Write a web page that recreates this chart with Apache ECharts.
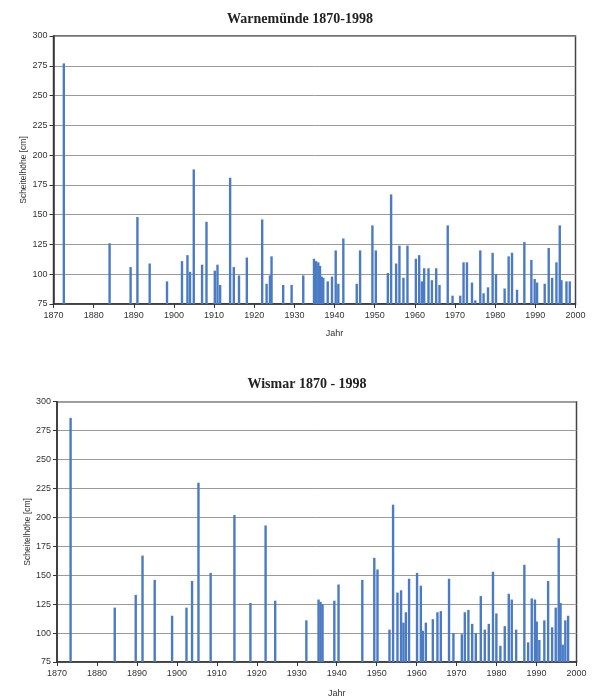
<!DOCTYPE html>
<html>
<head>
<meta charset="utf-8">
<script src="https://cdn.jsdelivr.net/npm/echarts@6/dist/echarts.min.js"></script>
<style>
html,body{margin:0;padding:0;background:#fff;}
#chart{width:594px;height:699px;}
</style>
</head>
<body>
<div id="chart"></div>
<script>
// ---- Data (decimal year of event, crest height in cm) ----
const titles = ["Warnemünde 1870-1998", "Wismar 1870 - 1998"];
const yAxisName = "Scheitelhöhe [cm]";
const xAxisName = "Jahr";

const warnYears = [1872.57,1883.97,1889.2,1890.9,1893.95,1898.27,1902.0,1903.36,1904.0,1904.93,1907.0,1908.1,1910.17,1910.84,1911.5,1913.99,1914.9,1916.2,1918.15,1921.97,1923.07,1923.9,1924.3,1927.2,1929.3,1932.2,
  1934.87,1935.37,1935.94,1936.37,1936.79,1937.19,1938.29,1939.36,1940.28,1940.93,1942.18,1945.52,1946.35,1949.42,1950.26,1953.26,1954.08,1955.33,1956.15,1957.15,1958.15,1960.24,1961.07,1961.74,1962.31,1963.39,1964.24,1965.31,1966.13,1968.18,1969.38,1971.3,1972.12,1972.97,1974.22,1975.04,1976.29,1977.11,1978.21,1979.36,1980.2,1982.35,1983.35,1984.19,1985.44,1987.26,1989.01,1989.83,1990.43,1992.33,1993.33,1994.18,1995.25,1996.08,1996.5,1997.75,1998.57];
const warnValues = [277,126,106,148,109,94,111,116,102,188,108,144,103,108,91,181,106,99,114,146,92,99,115,91,91,99,
  113,111,110,107,98,97,94,98,120,92,130,92,120,141,120,101,167,109,124,97,124,113,116,94,105,105,95,105,91,141,82,82,110,110,93,78,120,84,89,118,100,88,115,118,87,127,112,96,93,92,122,97,110,141,95,94,94];

const wisYears = [1873.4,1884.45,1889.7,1891.4,1894.45,1898.8,1902.4,1903.8,1905.4,1908.45,1914.4,1918.4,1922.2,1924.6,1932.4,
  1935.45,1935.95,1936.45,1939.4,1940.45,1946.4,1949.4,1950.2,1953.2,1954.1,1955.2,1956.1,1956.7,1957.3,1958.1,1960.1,1961.05,1961.55,1962.3,1964.05,1965.2,1966.05,1968.1,1969.2,1971.3,1972.05,1972.95,1973.9,1974.8,1976.05,1977.05,1978.05,1979.1,1979.95,1980.95,1982.05,1983.05,1983.8,1984.9,1986.95,1987.9,1988.8,1989.6,1990.05,1990.7,1991.95,1992.9,1993.9,1994.8,1995.55,1996.0,1996.55,1997.2,1997.9];
const wisValues = [286,122,133,167,146,115,122,145,230,152,202,126,193,128,111,
  129,127,125,128,142,146,165,155,103,211,135,137,109,118,147,152,141,102,109,112,118,119,147,100,99,118,120,108,100,132,103,108,153,117,89,106,134,129,103,159,92,130,129,110,94,111,145,105,122,182,126,90,111,115];

const yTicks = [75,100,125,150,175,200,225,250,275,300];
const xTicks = [1870,1880,1890,1900,1910,1920,1930,1940,1950,1960,1970,1980,1990,2000];

// ---- Chart ----
const chart = echarts.init(document.getElementById('chart'), null, {renderer:'canvas'});
const labelFont = {fontFamily:'Liberation Sans, Arial, sans-serif', fontSize:9, color:'#333'};

function xAxisCfg(idx){
  return {
    gridIndex: idx, type:'value', min: xTicks[0], max: xTicks[xTicks.length-1], interval: 10,
    name: xAxisName, nameLocation:'middle', nameGap: idx === 0 ? 25 : 27,
    nameTextStyle: {fontFamily:'Liberation Sans, Arial, sans-serif', fontSize:9, color:'#333', padding:[0,0,0,40]},
    axisLine: {show:true, onZero:false, lineStyle:{color:'#333', width:1.5}},
    axisTick: {show:true, inside:false, length:4, lineStyle:{color:'#333'}},
    axisLabel: Object.assign({margin:7, formatter: v => String(v)}, labelFont),
    splitLine: {show:false}
  };
}
function yAxisCfg(idx){
  return {
    gridIndex: idx, type:'value', min: yTicks[0], max: yTicks[yTicks.length-1], interval: 25,
    name: yAxisName, nameLocation:'middle', nameGap: 25, nameRotate: 90, nameMoveOverlap: false,
    nameTextStyle: {fontFamily:'Liberation Sans, Arial, sans-serif', fontSize:8.5, color:'#333'},
    axisLine: {show:true, lineStyle:{color:'#333', width:1.5}},
    axisTick: {show:true, inside:false, length:4, lineStyle:{color:'#333'}},
    axisLabel: Object.assign({margin:6, formatter: v => String(v)}, labelFont),
    splitLine: {show:true, lineStyle:{color:'#9a9a9a', width:1}}
  };
}
function barSeries(idx, years, vals){
  return {
    type:'bar', xAxisIndex: idx, yAxisIndex: idx,
    data: years.map((y,i)=>[y, vals[i]]),
    barWidth: 2.4, clip: true,
    itemStyle: {color:'#4a7bc4'},
    emphasis: {disabled:true}, silent:true
  };
}

chart.setOption({
  animation:false,
  backgroundColor:'#fff',
  title: [
    {text: titles[0], left: 295, top: 7, textAlign:'center',
     textStyle:{fontFamily:'Liberation Serif, Times New Roman, serif', fontSize:14, fontWeight:'bold', color:'#222'}},
    {text: titles[1], left: 302, top: 372, textAlign:'center',
     textStyle:{fontFamily:'Liberation Serif, Times New Roman, serif', fontSize:14, fontWeight:'bold', color:'#222'}}
  ],
  grid: [
    {left: 53.5, width: 522, top: 36, height: 268, show:true, borderColor:'#444', borderWidth:1.5, backgroundColor:'transparent'},
    {left: 57, width: 519.5, top: 401.7, height: 266, show:true, borderColor:'#444', borderWidth:1.5, backgroundColor:'transparent'}
  ],
  xAxis: [xAxisCfg(0), xAxisCfg(1)],
  yAxis: [yAxisCfg(0), yAxisCfg(1)],
  series: [barSeries(0, warnYears, warnValues), barSeries(1, wisYears, wisValues)]
});
</script>
</body>
</html>
